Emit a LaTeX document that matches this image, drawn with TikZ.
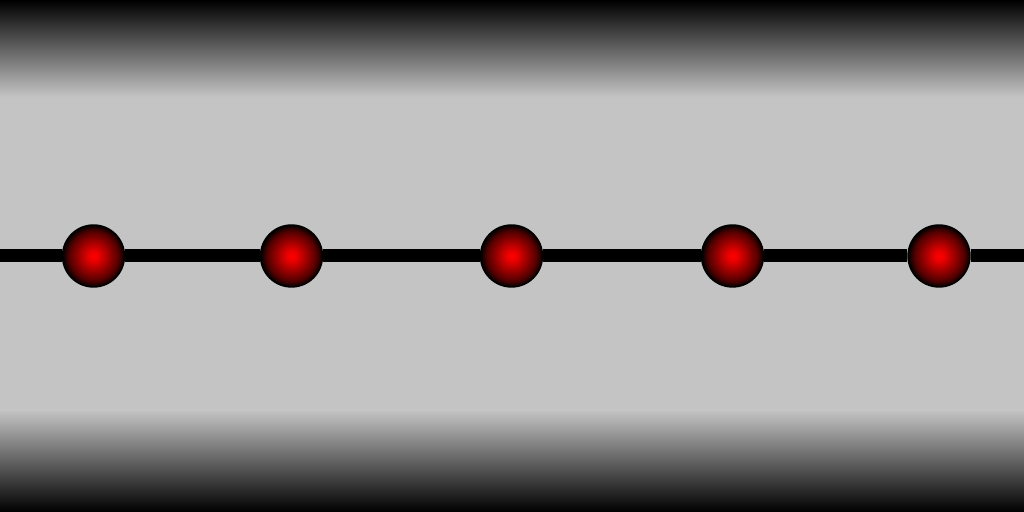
\documentclass[tikz,border=0pt]{standalone}
\usepackage{tikz}
\usepackage{xcolor}

\definecolor{wallgray}{RGB}{196,196,196}
\pgfdeclareradialshading{beadshade}{\pgfpoint{0bp}{0bp}}{color(0bp)=(red); color(4bp)=(red!92!black); color(12bp)=(red!62!black); color(20bp)=(red!32!black); color(25bp)=(black); color(50bp)=(black)}
\tikzset{bead/.style={circle,inner sep=0pt,minimum size=0.62cm,draw=black,thin,shading=beadshade}}

\begin{document}
\begin{tikzpicture}

\useasboundingbox (0,0) rectangle (10.24,5.12);
\fill[wallgray] (0,0) rectangle (10.24,5.12);
\shade[top color=wallgray,bottom color=black] (0,0) rectangle (10.24,1.02);
\shade[top color=black,bottom color=wallgray] (0,4.15) rectangle (10.24,5.12);

\coordinate (w) at (0,2.56);
\coordinate (e) at (10.24,2.56);
\foreach \n/\x in {1/0.935,2/2.915,3/5.115,4/7.325,5/9.39}
	\node[bead] (b\n) at (\x,2.56) {};

\draw[line width=0.13cm] (w) -- (b1) -- (b2) -- (b3) -- (b4) -- (b5) -- (e);

\end{tikzpicture}
\end{document}
